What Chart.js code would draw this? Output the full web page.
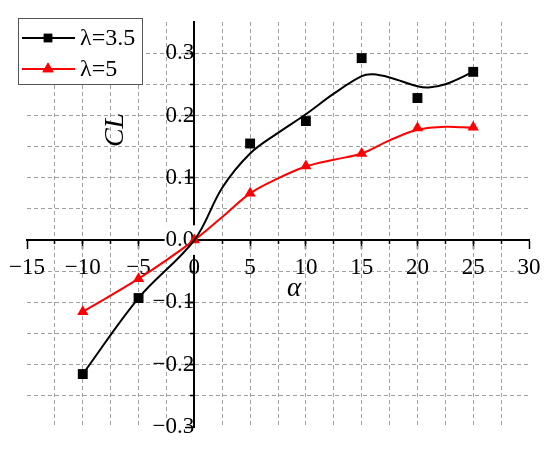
<!DOCTYPE html>
<html>
<head>
<meta charset="utf-8">
<script src="https://cdn.jsdelivr.net/npm/chart.js@4/dist/chart.umd.min.js"></script>
<style>
    html, body { margin: 0; padding: 0; background: #fff; }
    #wrap { width: 550px; height: 455px; }
    .fontprobe { font-family: 'Liberation Serif'; position: absolute; left: -999px; }
</style>
</head>
<body>
<span class="fontprobe">0.1 λ α</span><span class="fontprobe" style="font-style:italic">CL α</span>
<div id="wrap"><canvas id="clChart"></canvas></div>
<script>
// ---- data ----

// measured points (markers)
const alphaPts35 = [-10, -5, 5, 10, 15, 20, 25];
const clPts35 = [-0.215, -0.093, 0.155, 0.191, 0.292, 0.228, 0.27];
const alphaPts5 = [-10, -5, 0, 5, 10, 15, 20, 25];
const clPts5 = [-0.115, -0.062, 0, 0.075, 0.119, 0.139, 0.18, 0.181];

// fitted curves
const alphaCurve35 = [-10, -5, 0, 2.5, 5, 7.5, 10, 12.5, 15, 16, 17.5, 20, 21, 22.5, 25];
const clCurve35 = [-0.215, -0.093, 0, 0.084, 0.139, 0.172, 0.202, 0.235, 0.263, 0.266, 0.261, 0.247, 0.245, 0.25, 0.27];
const alphaCurve5 = [-10, -5, 0, 2.5, 5, 7.5, 10, 12.5, 15, 17.5, 20, 22.5, 25];
const clCurve5 = [-0.115, -0.062, 0, 0.037, 0.075, 0.099, 0.118, 0.129, 0.139, 0.16, 0.177, 0.182, 0.18];

const seriesNames = ['λ=3.5', 'λ=5'];

// ticks
const xMajorTicks = [-15, -10, -5, 0, 5, 10, 15, 20, 25, 30];
const xMinorTicks = [-12.5, -10, -7.5, -5, -2.5, 2.5, 5, 7.5, 10, 12.5, 15, 17.5, 20, 22.5, 25, 27.5];
const yMajorTicks = [-0.3, -0.2, -0.1, 0, 0.1, 0.2, 0.3];
const yMinorTicks = [-0.25, -0.2, -0.15, -0.1, -0.05, 0.05, 0.1, 0.15, 0.2, 0.25, 0.3];

const SERIF = "'Liberation Serif', 'Times New Roman', Tinos, 'DejaVu Serif', serif";
const GRID = '#a0a0a0';

const toXY = (xs, ys) => xs.map((x, i) => ({ x: x, y: ys[i] }));
const minus = s => s.replace('-', '\u2212');
const setTicks = list => scale => { scale.ticks = list.map(v => ({ value: v })); };

// ---- titles + legend (drawn last) ----
const decorPlugin = {
    id: 'decor',
    afterDraw(chart) {
        const ctx = chart.ctx;
        ctx.save();
        ctx.fillStyle = '#000';
        ctx.textAlign = 'center';
        ctx.textBaseline = 'middle';

        // y title
        ctx.save();
        ctx.translate(116, 130);
        ctx.rotate(-Math.PI / 2);
        ctx.font = 'italic 28px ' + SERIF;
        ctx.fillText('CL', 0, 0);
        ctx.restore();

        // x title
        ctx.font = 'italic 27px ' + SERIF;
        ctx.fillText('\u03b1', 294, 289);

        // legend box
        ctx.fillStyle = '#fff';
        ctx.fillRect(18, 18, 125, 66);
        ctx.strokeStyle = '#555';
        ctx.lineWidth = 1;
        ctx.strokeRect(18.5, 18.5, 124, 66);

        const rows = [
            { y: 38, color: '#000', style: 'rect' },
            { y: 69, color: '#f00', style: 'triangle' }
        ];
        rows.forEach((r, i) => {
            ctx.strokeStyle = r.color;
            ctx.lineWidth = 2;
            ctx.beginPath();
            ctx.moveTo(22, r.y);
            ctx.lineTo(75, r.y);
            ctx.stroke();
            ctx.fillStyle = r.color;
            Chart.helpers.drawPoint(ctx, { pointStyle: r.style, radius: r.style === 'rect' ? 6 : 6.5, borderWidth: 0 }, 48, r.y);
            ctx.fill();
            ctx.fillStyle = '#000';
            ctx.textAlign = 'left';
            ctx.font = '24px ' + SERIF;
            ctx.fillText(seriesNames[i], 80, r.y + 1);
        });
        ctx.restore();
    }
};

const chart = new Chart(document.getElementById('clChart'), {
    type: 'scatter',
    data: {
        datasets: [{
            label: seriesNames[0] + ' fit',
            data: toXY(alphaCurve35, clCurve35),
            showLine: true,
            borderColor: '#000',
            borderWidth: 2,
            pointRadius: 0,
            tension: 0.35,
        }, {
            label: seriesNames[1] + ' fit',
            data: toXY(alphaCurve5, clCurve5),
            showLine: true,
            borderColor: '#f00',
            borderWidth: 2,
            pointRadius: 0,
            tension: 0.35,
        }, {
            label: seriesNames[0],
            data: toXY(alphaPts35, clPts35),
            showLine: false,
            pointStyle: 'rect',
            pointRadius: 7,
            backgroundColor: '#000',
            borderWidth: 0,
        }, {
            label: seriesNames[1],
            data: toXY(alphaPts5, clPts5),
            showLine: false,
            pointStyle: 'triangle',
            pointRadius: 6.5,
            backgroundColor: '#f00',
            borderWidth: 0,
        }]
    },
    options: {
        responsive: true,
        maintainAspectRatio: false,
        animation: false,
        layout: { padding: { left: 27, right: 21, top: 22, bottom: 28 } },
        plugins: {
            legend: { display: false },
            tooltip: { enabled: false },
        },
        scales: {
            x: {
                type: 'linear',
                min: -15,
                max: 30,
                position: { y: 0 },
                afterBuildTicks: setTicks(xMajorTicks),
                ticks: {
                    color: '#000',
                    font: { family: SERIF, size: 23 },
                    padding: 6,
                    maxRotation: 0,
                    callback: v => minus(String(v)),
                },
                grid: { drawOnChartArea: false, tickLength: 8, tickColor: '#000', tickWidth: 1.5 },
                border: { color: '#000', width: 2, z: -0.5 },
            },
            x2: {
                type: 'linear',
                axis: 'x',
                min: -15,
                max: 30,
                position: { y: 0 },
                afterBuildTicks: setTicks(xMinorTicks),
                ticks: { display: false },
                grid: { color: GRID, lineWidth: 1, tickLength: 4, tickColor: '#000', tickWidth: 1.5, tickBorderDash: [] },
                border: { display: false, dash: [4, 3] },
            },
            y: {
                type: 'linear',
                min: -0.3,
                max: 0.35,
                position: { x: 0 },
                afterBuildTicks: setTicks(yMajorTicks),
                ticks: {
                    color: '#000',
                    font: { family: SERIF, size: 23 },
                    padding: 8,
                    callback: v => minus(v.toFixed(1)),
                    showLabelBackdrop: c => c.tick && c.tick.value === 0,
                    backdropColor: '#fff',
                    backdropPadding: 1,
                },
                grid: { drawOnChartArea: false, tickLength: 8, tickColor: '#000', tickWidth: 1.5 },
                border: { color: '#000', width: 2, z: -0.5 },
            },
            y2: {
                type: 'linear',
                axis: 'y',
                min: -0.3,
                max: 0.35,
                position: { x: 0 },
                afterBuildTicks: setTicks(yMinorTicks),
                ticks: { display: false },
                grid: { color: GRID, lineWidth: 1, tickLength: 4, tickColor: '#000', tickWidth: 1.5, tickBorderDash: [] },
                border: { display: false, dash: [4, 3] },
            }
        }
    },
    plugins: [decorPlugin]
});

// redraw once the serif face is resolved
if (document.fonts && document.fonts.ready) {
    document.fonts.ready.then(() => chart.update());
}
</script>
</body>
</html>
